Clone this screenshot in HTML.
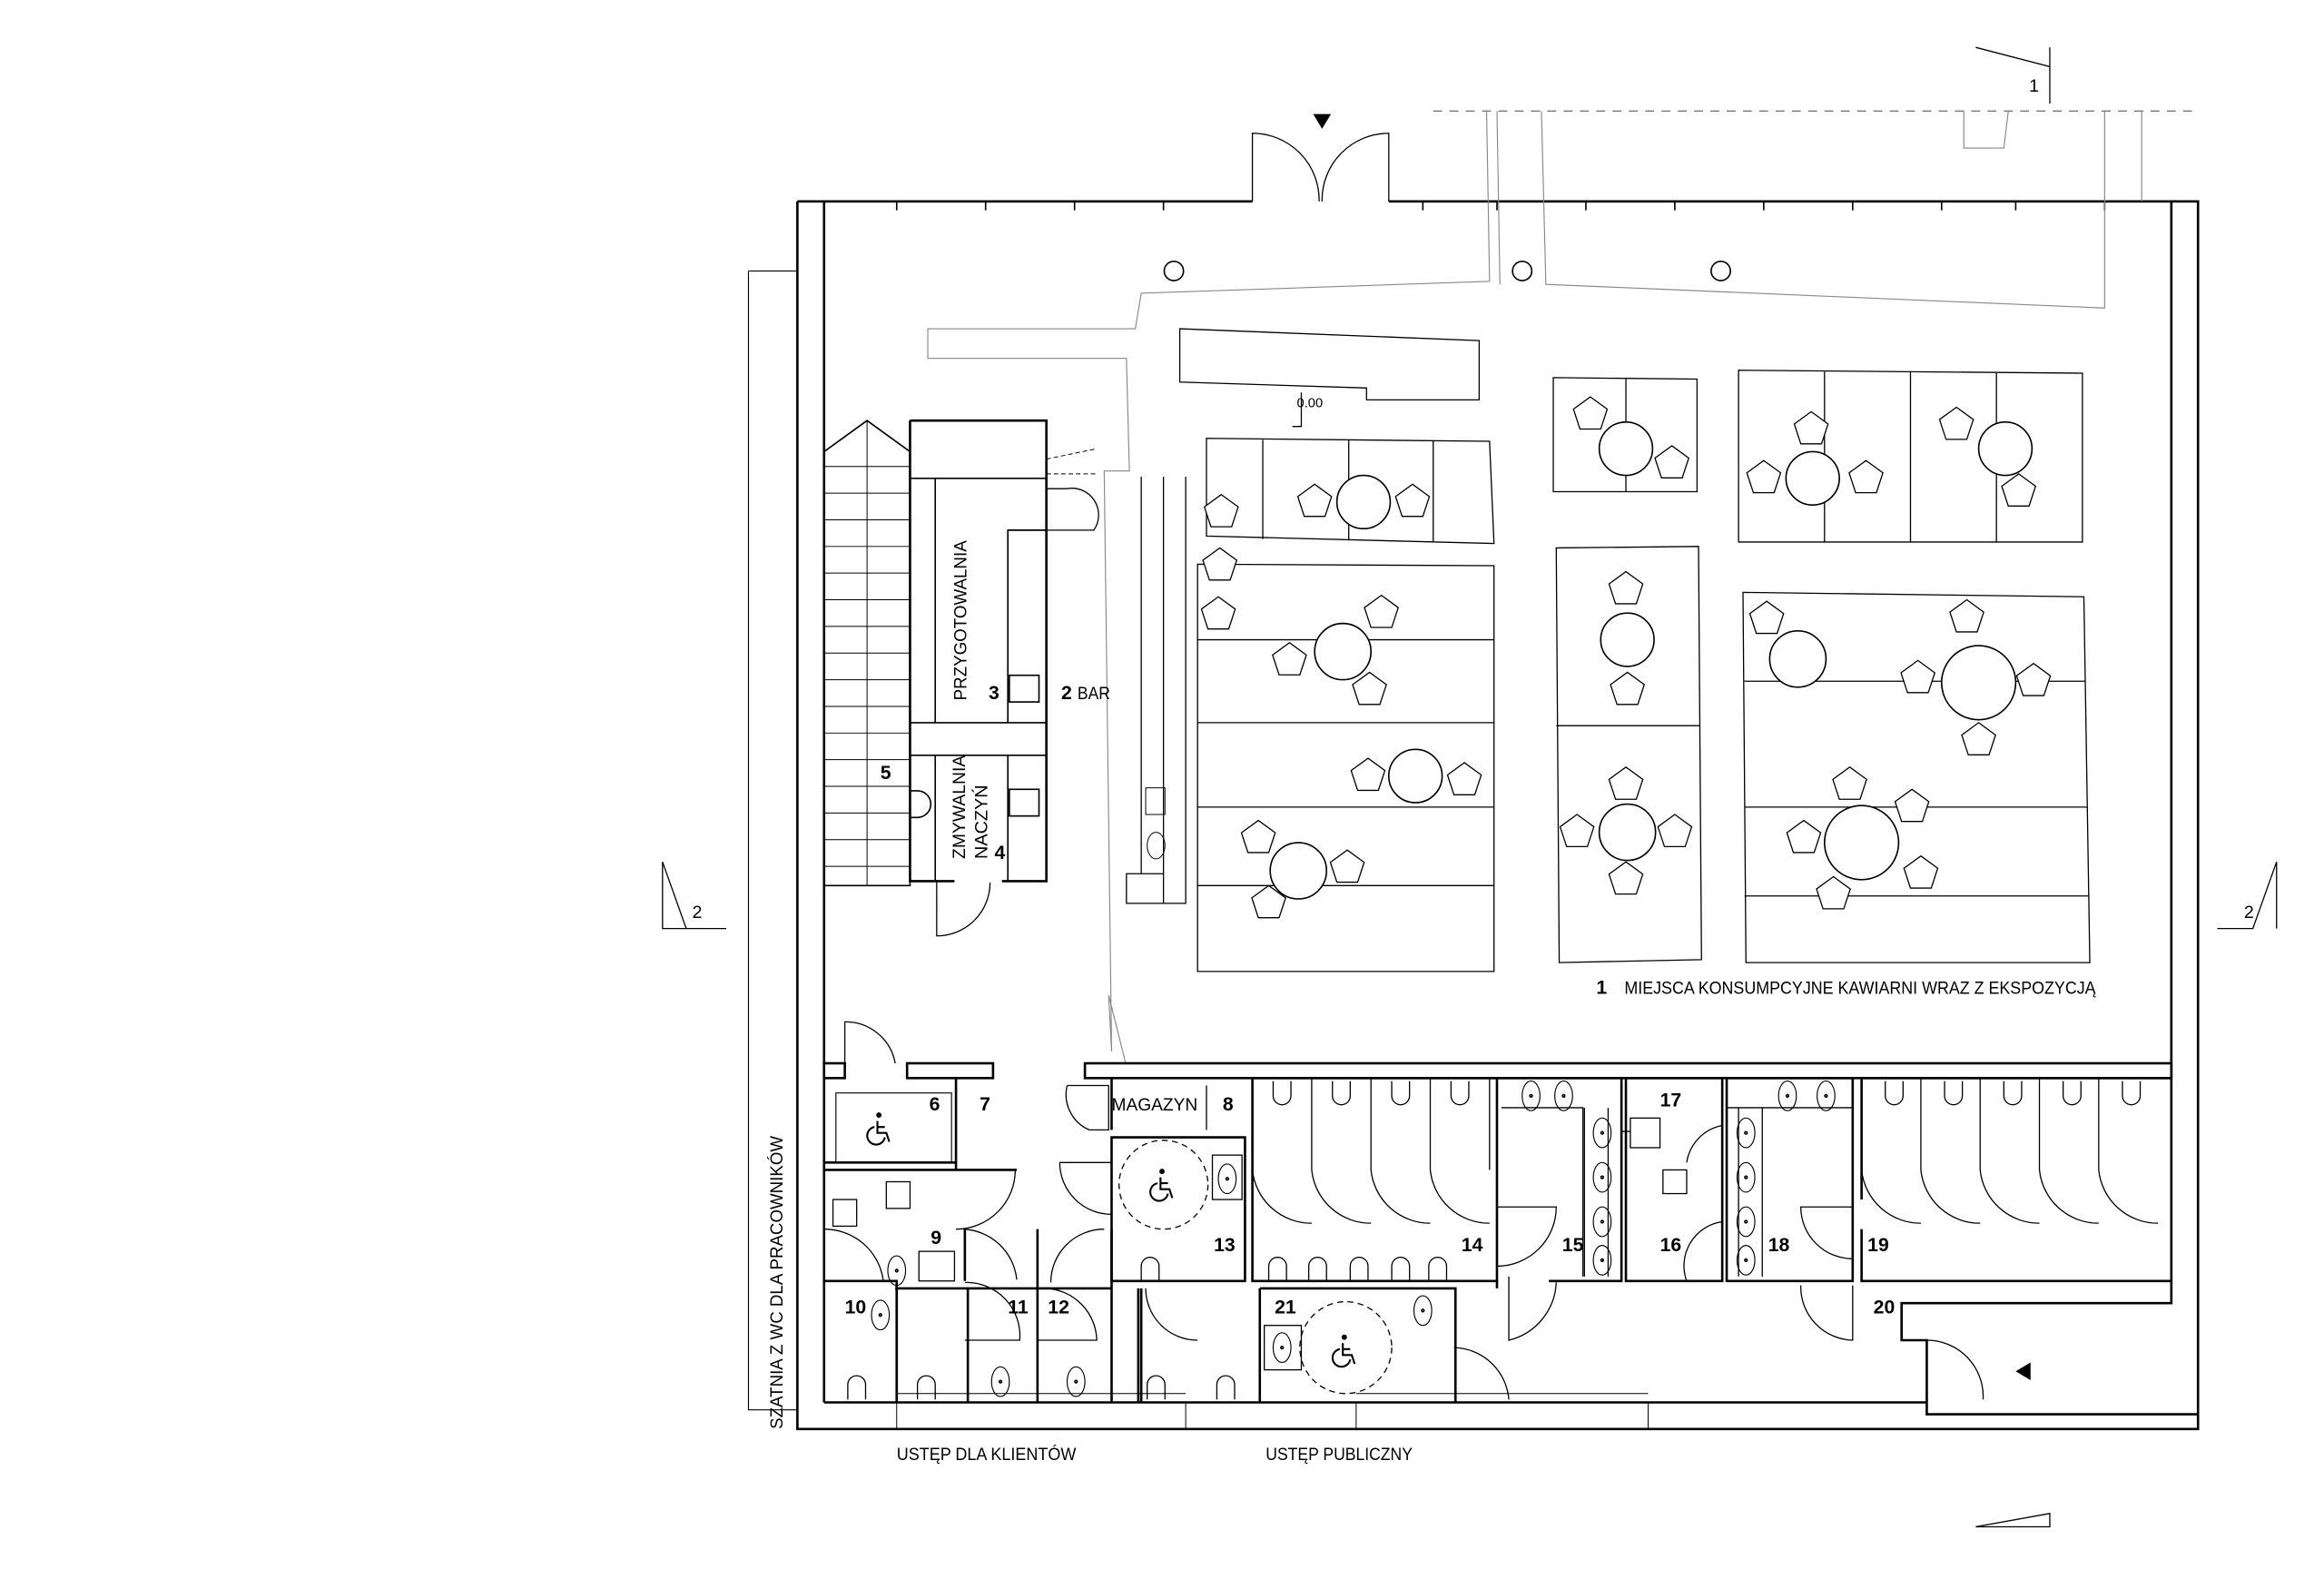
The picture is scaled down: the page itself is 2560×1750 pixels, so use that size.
<!DOCTYPE html>
<html><head><meta charset="utf-8"><style>
html,body{margin:0;padding:0;background:#fff;}
svg{display:block;}
text{font-family:"Liberation Sans Narrow","Liberation Sans",sans-serif;fill:#000;}
.b{font-weight:bold;font-size:13px;}
.l{font-size:12px;}
</style></head><body>
<svg width="2560" height="1750" viewBox="0 0 1568 1073" preserveAspectRatio="none" xmlns="http://www.w3.org/2000/svg">
<defs>
<polygon id="ch" points="0,-12 11.4,-3.7 7,9.7 -7,9.7 -11.4,-3.7" fill="#fff" stroke="#000" stroke-width="0.8"/>
<g id="wc"><path d="M-6,12 V2 A6,6 0 0 1 6,2 V12" fill="none" stroke="#000" stroke-width="0.8"/></g>
<g id="urn"><path d="M-6,-12 V-2 A6,6 0 0 0 6,-2 V-12" fill="none" stroke="#000" stroke-width="0.8"/></g>
<g id="sink"><ellipse cx="0" cy="0" rx="6" ry="10" fill="none" stroke="#000" stroke-width="0.7"/><circle r="0.8"/></g>
<g id="whl" fill="none" stroke="#000" stroke-width="1.3"><circle cx="0" cy="-9" r="1.8" fill="#000" stroke="none"/><path d="M-1,-5 V3 H5 L7,9 M-1,-1 H4"/><path d="M-3,-1 A6,6 0 1 0 4,6"/></g>
</defs>
<g fill="none" stroke="#000" stroke-width="1">
<!-- outer walls -->
<path d="M538,136 H845 M937,136 H1483 V965 H538 V136" stroke-width="1.6"/>
<path d="M556,136 V947 M1465,136 V880 H1283 V905 H1300 V955 H1483" stroke-width="1.6"/>
<line x1="556" y1="947" x2="1300" y2="947" stroke-width="1.6"/>
<path d="M605,941 H800 M915,941 H1112" stroke-width="0.6"/>
<path d="M605,947 V965 M800,947 V965 M915,947 V965 M1112,947 V965" stroke-width="0.6"/>
<path d="M605,136 v6 M665,136 v6 M725,136 v6 M785,136 v6 M960,136 v6 M1010,136 v6 M1070,136 v6 M1130,136 v6 M1190,136 v6 M1250,136 v6 M1310,136 v6 M1360,136 v6 M1420,136 v6"/>
<!-- entry doors -->
<path d="M845,136 V90 A45,45 0 0 1 890,136 M937,136 V90 A45,45 0 0 0 892,136" stroke-width="0.8"/>
<line x1="967" y1="75" x2="1483" y2="75" stroke="#777" stroke-dasharray="6,5" stroke-width="0.8"/>
<circle cx="792" cy="183" r="6.5"/><circle cx="1027" cy="183" r="6.5"/><circle cx="1161" cy="183" r="6.5"/>
<g stroke="#888" stroke-width="0.7">
<path d="M1003,75 L1005,190 L770,198 L766,222 L626,222 L626,242 L760,242 L762,318 L745,318 L750,710 L748,672 L760,720"/>
<path d="M1040,75 L1043,192 L1420,208 L1420,75 M1010,75 L1012,192 M1445,75 V136"/>
<path d="M1325,75 V100 H1352 L1355,75"/>
</g>
<polygon points="796,222 998,230 998,270 922,270 922,262 796,258" stroke-width="0.8"/>
<g stroke-width="0.8"><path d="M1333,32 L1383,45 V32 M1383,32 V70"/><path d="M447,582 L463,627 H490 M447,582 V627 H463"/><path d="M1536,582 L1520,627 H1496 M1536,582 V627"/><path d="M1333,1031 L1383,1022 V1031 H1333"/></g>
<path d="M505,183 H538 M505,183 V952 H538" stroke-width="0.7"/>
<!-- stairs -->
<path d="M556,305 L585,284 L614,305 M556,305 V598 H614 V284" stroke-width="1"/>
<path d="M585,284 V598 M556,315 H614 M556,333 H614 M556,351 H614 M556,369 H614 M556,387 H614 M556,405 H614 M556,423 H614 M556,441 H614 M556,459 H614 M556,477 H614 M556,495 H614 M556,513 H614 M556,531 H614 M556,549 H614 M556,567 H614 M556,585 H614" stroke-width="0.6"/>
<!-- kitchen block -->
<path d="M614,284 H706 V595 H676 M644,595 H614 V284" stroke-width="1.6"/>
<path d="M614,323 H706 M631,323 V488 M614,488 H706 M614,510 H706 M680,358 V488 H706 V358 Z M680,510 V595 M631,510 V595"/>
<rect x="681" y="456" width="20" height="18"/><rect x="681" y="533" width="20" height="18"/>
<path d="M614,534 h5 a8,8 0 0 1 0,18 h-5"/>
<path d="M706,330 H720 A18,18 0 0 1 738,358 H706" stroke-width="0.8"/>
<path d="M706,310 L740,303 M706,320 L740,320" stroke-width="0.6" stroke-dasharray="3,2"/>
<path d="M632,595 V632 A36,36 0 0 0 668,596" stroke-width="0.8"/>
<path d="M770,322 V590 M785,322 V610 M800,322 V610 H760 V590 H785" stroke-width="0.8"/>
<rect x="773" y="532" width="13" height="18" stroke-width="0.6"/><ellipse cx="780" cy="571" rx="6" ry="9" stroke-width="0.6"/>
<!-- tables -->
<g stroke-width="0.8">
<polygon points="814,296 1005,298 1008,367 814,362"/>
<path d="M852,297 V364 M910,297 V365 M967,298 V366"/>
<polygon points="808,381 1008,382 1008,656 808,656"/>
<path d="M808,432 H1008 M808,488 H1008 M808,545 H1008 M808,598 H1008"/>
<polygon points="1048,255 1145,256 1145,332 1048,332"/><path d="M1097,256 V332"/>
<polygon points="1173,250 1405,252 1405,366 1173,366"/><path d="M1231,251 V366 M1289,251 V366 M1347,252 V366"/>
<polygon points="1050,370 1146,369 1148,648 1052,650"/><path d="M1050,490 H1147"/>
<polygon points="1176,400 1406,403 1410,650 1178,650"/><path d="M1177,460 H1407 M1177,545 H1408 M1177,605 H1409"/>
</g>
<g stroke-width="1" fill="#fff">
<circle cx="920" cy="339" r="18"/><circle cx="906" cy="440" r="19"/><circle cx="955" cy="524" r="18"/><circle cx="876" cy="588" r="19"/>
<circle cx="1097" cy="303" r="18"/><circle cx="1223" cy="323" r="18"/><circle cx="1353" cy="303" r="18"/>
<circle cx="1098" cy="432" r="18"/><circle cx="1098" cy="562" r="19"/>
<circle cx="1213" cy="445" r="19"/><circle cx="1335" cy="461" r="25"/><circle cx="1256" cy="569" r="25"/>
</g>
<g>
<use href="#ch" x="887" y="339"/><use href="#ch" x="953" y="339"/><use href="#ch" x="824" y="346"/><use href="#ch" x="823" y="382"/><use href="#ch" x="822" y="415"/>
<use href="#ch" x="932" y="414"/><use href="#ch" x="870" y="446"/><use href="#ch" x="924" y="466"/>
<use href="#ch" x="923" y="524"/><use href="#ch" x="988" y="527"/>
<use href="#ch" x="849" y="566"/><use href="#ch" x="909" y="586"/><use href="#ch" x="856" y="610"/>
<use href="#ch" x="1073" y="280"/><use href="#ch" x="1128" y="313"/>
<use href="#ch" x="1222" y="290"/><use href="#ch" x="1190" y="323"/><use href="#ch" x="1259" y="323"/>
<use href="#ch" x="1320" y="287"/><use href="#ch" x="1362" y="332"/>
<use href="#ch" x="1097" y="398"/><use href="#ch" x="1098" y="466"/><use href="#ch" x="1097" y="530"/><use href="#ch" x="1064" y="562"/><use href="#ch" x="1130" y="562"/><use href="#ch" x="1097" y="594"/>
<use href="#ch" x="1192" y="418"/><use href="#ch" x="1327" y="417"/><use href="#ch" x="1294" y="458"/><use href="#ch" x="1372" y="460"/><use href="#ch" x="1335" y="500"/>
<use href="#ch" x="1248" y="530"/><use href="#ch" x="1290" y="545"/><use href="#ch" x="1217" y="566"/><use href="#ch" x="1296" y="590"/><use href="#ch" x="1237" y="604"/>
</g>
<path d="M878,265 V288 H872" stroke-width="0.8"/>
<g stroke-width="1.6" fill="#fff">
<rect x="556" y="718" width="14" height="10"/><rect x="612" y="718" width="58" height="10"/><rect x="732" y="718" width="733" height="10"/>
</g>
<path d="M570,718 V690 A34,34 0 0 1 604,718" stroke-width="0.8"/>
<g stroke-width="1.6">
<path d="M556,785 H645 M556,790 H686 M556,865 H605 V947 M604,870 H750 M645,728 V790"/>
<path d="M651,830 V865 M700,830 V947 M750,830 V947 M770,870 V947 M605,870 V947 M653,870 V947"/>
<path d="M750,768 H840 V865 H750 Z M750,768 V830"/>
<path d="M750,728 V763 M845,728 H1010 V865 H845 Z"/>
<path d="M1010,728 H1094 V865 H1045 M1097,728 H1162 V865 H1097 Z M1162,728 V865 M1165,728 H1250 V865 H1165 Z M1256,728 H1465 M1256,728 V810 M1256,830 V865 H1465"/>
<path d="M850,870 H982 V947 M850,870 V947 M768,870 V947 M1010,865 V870"/>
</g>
<g stroke-width="0.8">
<path d="M564,738 V785 H642 V738 Z" stroke-width="0.7"/>
<path d="M720,733 H748 V763 H735 A26,26 0 0 1 720,733" />
<path d="M814,733 V763"/>
<path d="M1013,748 H1068 V862 M1100,764 H1094"/><path d="M1165,748 H1250"/>
<path d="M1173,748 V862 M1189,748 V862"/><path d="M1069,748 V862 M1085,748 V862"/>
<path d="M645,790 H685 A40,40 0 0 1 645,830 M650,830 A38,38 0 0 1 686,864 M556,830 A40,40 0 0 1 596,865 M745,830 A36,36 0 0 0 709,866 M651,905 H688 A36,36 0 0 0 651,866 M700,905 H740 A36,36 0 0 0 706,870 M715,785 H750 V820 A35,35 0 0 1 715,785 M1018,862 V905 A42,42 0 0 0 1050,866 M1010,815 H1050 A40,40 0 0 1 1010,855 M981,910 A38,38 0 0 1 1018,945 M1162,760 A30,30 0 0 0 1138,785 M1162,825 A30,30 0 0 0 1138,865 M1250,815 H1215 A35,35 0 0 0 1250,850 M1250,868 V905 A36,36 0 0 1 1215,868 M1300,905 A38,38 0 0 1 1338,945 M773,870 A35,35 0 0 0 808,905"/>
<path d="M845,790 A40,40 0 0 0 885,826 M885,790 A40,40 0 0 0 925,826 M925,790 A40,40 0 0 0 965,826 M965,790 A40,40 0 0 0 1005,826 M885,728 V790 M925,728 V790 M965,728 V790 M1005,728 V790"/>
<path d="M1256,790 A40,40 0 0 0 1296,826 M1296,790 A40,40 0 0 0 1336,826 M1336,790 A40,40 0 0 0 1376,826 M1376,790 A40,40 0 0 0 1416,826 M1416,790 A40,40 0 0 0 1456,826 M1296,728 V790 M1336,728 V790 M1376,728 V790 M1416,728 V790"/>
<circle cx="785" cy="800" r="30" stroke-dasharray="4,3"/><circle cx="908" cy="910" r="31" stroke-dasharray="4,3"/>
<rect x="818" y="780" width="20" height="30"/><rect x="853" y="895" width="25" height="30"/>
<rect x="598" y="798" width="16" height="18"/><rect x="562" y="810" width="16" height="18"/><rect x="620" y="845" width="24" height="20"/>
<rect x="1122" y="790" width="16" height="16"/><rect x="1100" y="755" width="20" height="20"/>
</g>
<g>
<use href="#urn" x="865" y="742"/><use href="#urn" x="905" y="742"/><use href="#urn" x="945" y="742"/><use href="#urn" x="985" y="742"/>
<use href="#urn" x="1278" y="742"/><use href="#urn" x="1318" y="742"/><use href="#urn" x="1358" y="742"/><use href="#urn" x="1398" y="742"/><use href="#urn" x="1438" y="742"/>
<use href="#wc" x="862" y="853"/><use href="#wc" x="889" y="853"/><use href="#wc" x="917" y="853"/><use href="#wc" x="945" y="853"/><use href="#wc" x="970" y="853"/>
<use href="#wc" x="578" y="933"/><use href="#wc" x="625" y="933"/><use href="#wc" x="780" y="933"/><use href="#wc" x="827" y="933"/><use href="#wc" x="776" y="853"/>
<use href="#sink" x="1033" y="740"/><use href="#sink" x="1055" y="740"/><use href="#sink" x="1081" y="765"/><use href="#sink" x="1081" y="795"/><use href="#sink" x="1081" y="825"/><use href="#sink" x="1081" y="851"/>
<use href="#sink" x="1206" y="740"/><use href="#sink" x="1232" y="740"/><use href="#sink" x="1178" y="765"/><use href="#sink" x="1178" y="795"/><use href="#sink" x="1178" y="825"/><use href="#sink" x="1178" y="851"/>
<use href="#sink" x="675" y="933"/><use href="#sink" x="726" y="933"/><use href="#sink" x="605" y="858"/><use href="#sink" x="594" y="888"/>
<use href="#sink" x="828" y="796"/><use href="#sink" x="865" y="910"/><use href="#sink" x="960" y="885"/>
</g>
</g>
<use href="#whl" x="593" y="762"/><use href="#whl" x="784" y="800"/><use href="#whl" x="907" y="912"/>
<polygon points="886,77 898,77 892,87"/><polygon points="1360,926 1370,920 1370,932"/>
<g>
<text x="875" y="275" font-size="9">0.00</text>
<text class="l" transform="translate(652,473) rotate(-90)" textLength="108" lengthAdjust="spacingAndGlyphs">PRZYGOTOWALNIA</text>
<text class="l" transform="translate(651,580) rotate(-90)" textLength="70" lengthAdjust="spacingAndGlyphs">ZMYWALNIA</text>
<text class="l" transform="translate(666,580) rotate(-90)" textLength="50" lengthAdjust="spacingAndGlyphs">NACZYŃ</text>
<text class="b" x="667" y="472">3</text><text class="b" x="716" y="472">2</text><text class="l" x="727" y="472" textLength="22" lengthAdjust="spacingAndGlyphs">BAR</text>
<text class="b" x="594" y="526">5</text><text class="b" x="671" y="580">4</text>
<text class="b" x="1077" y="671">1</text><text class="l" x="1096" y="671" textLength="318" lengthAdjust="spacingAndGlyphs">MIEJSCA KONSUMPCYJNE KAWIARNI WRAZ Z EKSPOZYCJĄ</text>
<text class="b" x="627" y="750">6</text><text class="b" x="661" y="750">7</text>
<text class="l" x="750" y="750" textLength="58" lengthAdjust="spacingAndGlyphs">MAGAZYN</text><text class="b" x="825" y="750">8</text>
<text class="b" x="628" y="840">9</text><text class="b" x="570" y="887">10</text><text class="b" x="680" y="887">11</text><text class="b" x="707" y="887">12</text>
<text class="b" x="819" y="845">13</text><text class="b" x="986" y="845">14</text><text class="b" x="1054" y="845">15</text><text class="b" x="1120" y="845">16</text>
<text class="b" x="1120" y="747">17</text><text class="b" x="1193" y="845">18</text><text class="b" x="1260" y="845">19</text><text class="b" x="1264" y="887">20</text><text class="b" x="860" y="887">21</text>
<text class="l" x="605" y="986" textLength="121" lengthAdjust="spacingAndGlyphs">USTĘP DLA KLIENTÓW</text><text class="l" x="854" y="986" textLength="99" lengthAdjust="spacingAndGlyphs">USTĘP PUBLICZNY</text>
<text class="l" transform="translate(528,965) rotate(-90)" textLength="198" lengthAdjust="spacingAndGlyphs">SZATNIA Z WC DLA PRACOWNIKÓW</text>
<text x="1369" y="62" font-size="12">1</text><text x="467" y="620" font-size="12">2</text><text x="1514" y="620" font-size="12">2</text>
</g>
</svg>
</body></html>
